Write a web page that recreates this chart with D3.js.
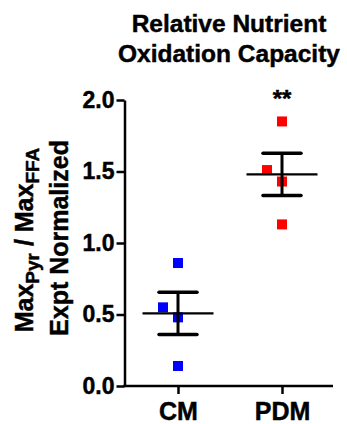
<!DOCTYPE html>
<html>
<head>
<meta charset="utf-8">
<script src="https://cdn.jsdelivr.net/npm/d3@7"></script>
<style>
  body { margin: 0; background: #fff; }
  text { font-family: "Liberation Sans", Arial, Helvetica, sans-serif; font-weight: bold; stroke: #000; stroke-width: 0.45px; }
</style>
</head>
<body>
<div id="chart"></div>
<script>
// Data
const groups = ["CM", "PDM"];
const cmValues = [0.86, 0.55, 0.48, 0.14];
const pdmValues = [1.85, 1.51, 1.43, 1.13];
const pointShift = [0, -1, 0, 0];   // horizontal jitter, in units of marker spread
const groupColors = ["#0000ff", "#ff0000"];
const yTicks = [0, 0.5, 1.0, 1.5, 2.0];
const significance = ["", "**"];

const W = 347, H = 424;

const svg = d3.select("#chart").append("svg")
  .attr("width", W)
  .attr("height", H);

const x = d3.scalePoint()
  .domain(groups)
  .range([126, 334])
  .padding(0.5);

const y = d3.scaleLinear()
  .domain([0, 2])
  .range([386, 100]);

// Title
svg.append("text")
  .attr("x", 229)
  .attr("y", 32)
  .attr("text-anchor", "middle")
  .attr("font-size", "24.5px")
  .text("Relative Nutrient");
svg.append("text")
  .attr("x", 229)
  .attr("y", 62)
  .attr("text-anchor", "middle")
  .attr("font-size", "24.5px")
  .text("Oxidation Capacity");

// Y axis
const yAxis = svg.append("g")
  .attr("transform", "translate(124.5,0)")
  .call(d3.axisLeft(y).tickValues(yTicks).tickFormat(d3.format(".1f")).tickSize(8).tickSizeOuter(0).tickPadding(2));

// X axis
const xAxis = svg.append("g")
  .attr("transform", "translate(0,386)")
  .call(d3.axisBottom(x).tickSize(8).tickSizeOuter(0).tickPadding(8));
xAxis.select(".domain").attr("d", "M123.3,0H333");

svg.selectAll(".domain, .tick line")
  .attr("stroke", "#000")
  .attr("stroke-width", 2.5);
yAxis.selectAll("text").attr("font-size", "23px").attr("fill", "#000");
xAxis.selectAll("text").attr("font-size", "25px").attr("fill", "#000");
svg.selectAll("g").attr("font-family", null);

// Y axis label
const ylab = svg.append("text")
  .attr("transform", "rotate(-90)")
  .attr("x", -240)
  .attr("y", 33)
  .attr("text-anchor", "middle")
  .attr("font-size", "25px");
ylab.append("tspan").text("Max");
ylab.append("tspan").attr("font-size", "19px").attr("dy", 5.5).text("Pyr");
ylab.append("tspan").attr("dy", -5.5).text(" / Max");
ylab.append("tspan").attr("font-size", "19px").attr("dy", 5.5).text("FFA");

svg.append("text")
  .attr("transform", "rotate(-90)")
  .attr("x", -238)
  .attr("y", 68)
  .attr("text-anchor", "middle")
  .attr("font-size", "25px")
  .text("Expt Normalized");

// Groups with mean and SEM
const series = [cmValues, pdmValues].map((vals, i) => {
  const mean = d3.mean(vals);
  const sem = d3.deviation(vals) / Math.sqrt(vals.length);
  return { group: groups[i], values: vals, mean, sem, color: groupColors[i], sig: significance[i] };
});

const size = 10, spread = 15;
const meanHalf = 35.5, capHalf = 19;

series.forEach(s => {
  const cx = x(s.group);
  const g = svg.append("g");

  g.selectAll("rect")
    .data(s.values)
    .enter()
    .append("rect")
    .attr("x", (d, i) => cx + pointShift[i] * spread - size / 2)
    .attr("y", d => y(d) - size / 2)
    .attr("width", size)
    .attr("height", size)
    .attr("fill", s.color);

  // stem
  g.append("line")
    .attr("x1", cx).attr("x2", cx)
    .attr("y1", y(s.mean + s.sem)).attr("y2", y(s.mean - s.sem))
    .attr("stroke", "#000").attr("stroke-width", 3);
  // caps
  [s.mean + s.sem, s.mean - s.sem].forEach(v => {
    g.append("line")
      .attr("x1", cx - capHalf).attr("x2", cx + capHalf)
      .attr("y1", y(v)).attr("y2", y(v))
      .attr("stroke", "#000").attr("stroke-width", 3.5)
      .attr("stroke-linecap", "round");
  });
  // mean
  g.append("line")
    .attr("x1", cx - meanHalf).attr("x2", cx + meanHalf)
    .attr("y1", y(s.mean)).attr("y2", y(s.mean))
    .attr("stroke", "#000").attr("stroke-width", 2.2);

  if (s.sig) {
    g.append("text")
      .attr("x", cx)
      .attr("y", 107)
      .attr("text-anchor", "middle")
      .attr("font-size", "24px")
      .attr("stroke-width", 0.2)
      .text(s.sig);
  }
});
</script>
</body>
</html>
